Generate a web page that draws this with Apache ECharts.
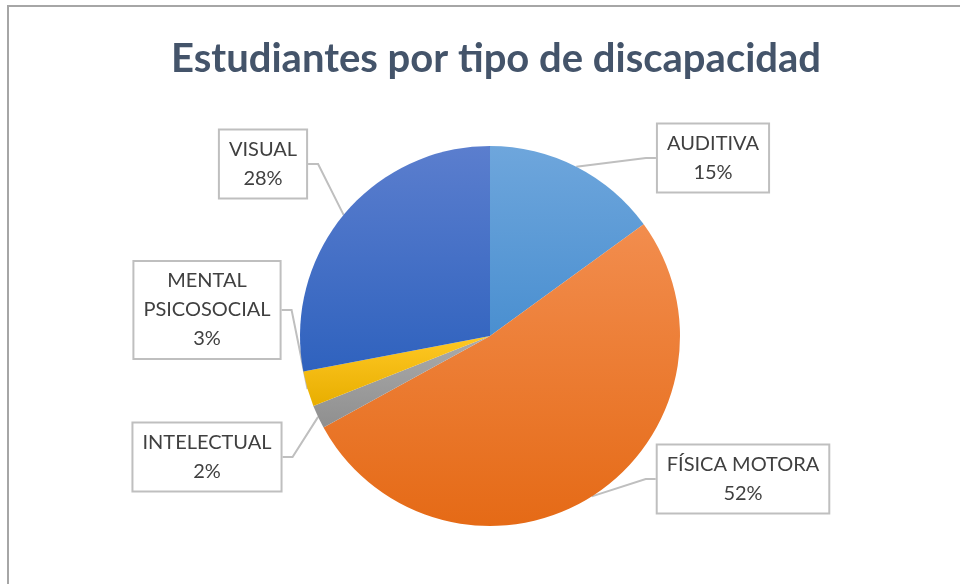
<!DOCTYPE html>
<html>
<head>
<meta charset="utf-8">
<script src="https://cdn.jsdelivr.net/npm/echarts@6/dist/echarts.min.js"></script>
<style>
  html, body { margin: 0; padding: 0; background: #fff; }
  #chart { width: 960px; height: 584px; }
</style>
</head>
<body>
<div id="chart"></div>
<script>
var categories = ["AUDITIVA", "FÍSICA MOTORA", "INTELECTUAL", "MENTAL\nPSICOSOCIAL", "VISUAL"];
var values = [15, 52, 2, 3, 28];

// colores tipo Excel (arriba claro, abajo oscuro)
var colorTop = ["#6EA6DC", "#F28D4E", "#ABABAB", "#FFC824", "#5B7ECE"];
var colorBottom = ["#4A8FD0", "#E56A16", "#8F8F8F", "#E8AE00", "#2F62BE"];

// centro de cada cuadro de etiqueta
var labelPos = [[713, 158], [743, 479], [207, 457], [207, 310], [263, 164]];

var chart = echarts.init(document.getElementById("chart"));

var seriesData = categories.map(function (name, i) {
  return {
    name: name,
    value: values[i],
    itemStyle: {
      color: new echarts.graphic.LinearGradient(0, 0, 0, 1, [
        { offset: 0, color: colorTop[i] },
        { offset: 1, color: colorBottom[i] },
      ]),
    },
  };
});

chart.setOption({
  animation: false,
  title: {
    text: "Estudiantes por tipo de discapacidad",
    left: 166,
    top: 34,
    textStyle: {
      fontFamily: "Lato",
      fontWeight: "bold",
      fontSize: 40,
      color: "#44546A",
    },
  },
  graphic: [
    {
      type: "rect",
      shape: { x: 8, y: 6, width: 1200, height: 1200 },
      style: { fill: "none", stroke: "#A6A6A6", lineWidth: 2 },
      silent: true,
    },
  ],
  series: [
    {
      type: "pie",
      center: [490, 336],
      radius: 190,
      startAngle: 90,
      clockwise: true,
      data: seriesData,
      label: {
        show: true,
        formatter: function (p) {
          return p.name + "\n" + Math.round(p.percent) + "%";
        },
        fontFamily: "Lato",
        fontSize: 20,
        lineHeight: 29,
        color: "#404040",
        align: "center",
        backgroundColor: "#fff",
        borderColor: "#BFBFBF",
        borderWidth: 2,
        padding: [5, 9, 4, 9],
      },
      labelLine: {
        show: true,
        length: 10,
        length2: 10,
        lineStyle: { color: "#BFBFBF", width: 2 },
      },
      labelLayout: function (params) {
        var pos = labelPos[params.dataIndex];
        return {
          x: pos[0],
          y: pos[1],
          align: "center",
          verticalAlign: "middle",
          hideOverlap: false,
        };
      },
      emphasis: { disabled: true },
    },
  ],
});
</script>
</body>
</html>
